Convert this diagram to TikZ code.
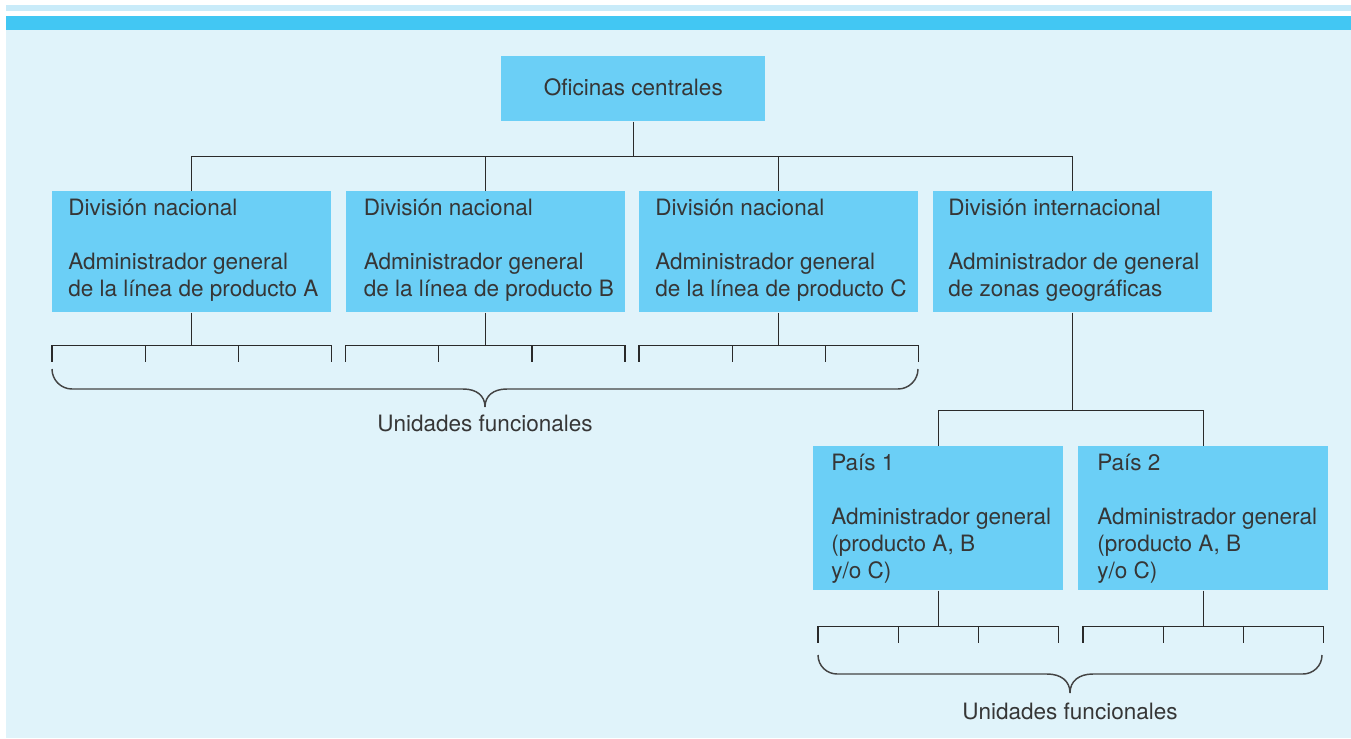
\documentclass[tikz,border=0pt]{standalone}
\usepackage{fontspec}
\setmainfont{TeX Gyre Heros}
\usetikzlibrary{calc}
\definecolor{bgblue}{HTML}{E0F3FA}
\definecolor{topbar}{HTML}{C9EBF9}
\definecolor{bandblue}{HTML}{42C7F3}
\definecolor{boxblue}{HTML}{6BCFF6}
\definecolor{textgray}{HTML}{363636}
\definecolor{linegray}{HTML}{2A2A2A}
\definecolor{bracegray}{HTML}{444444}
\begin{document}
\begin{tikzpicture}[x=0.75pt,y=-0.75pt,
  orgbox/.style={fill=boxblue, draw=none, inner sep=0pt, anchor=north west},
  rowbox/.style={orgbox, minimum width=209.25pt, minimum height=90.75pt},
  paisbox/.style={orgbox, minimum width=187.5pt, minimum height=108pt},
  boxtext/.style={anchor=west, align=left, inner sep=0pt, text=textgray,
    font=\fontsize{16.9}{20.25}\selectfont},
  link/.style={draw=linegray, line width=1pt},
  bracepath/.style={draw=bracegray, line width=1.1pt}]
\useasboundingbox (0,0) rectangle (1351,738);
% page header bands and background
\fill[topbar] (6,5) rectangle (1351,11);
\fill[bandblue] (6,16) rectangle (1351,30);
\fill[bgblue] (6,30) rectangle (1351,738);

% boxes
\node[orgbox, minimum width=198pt, minimum height=48.75pt] (hq) at (501,56) {};
\node[rowbox] (b1) at (52,191) {};
\node[rowbox] (b2) at (345.5,191) {};
\node[rowbox] (b3) at (639,191) {};
\node[rowbox] (b4) at (933,191) {};
\node[paisbox] (p1) at (813,446) {};
\node[paisbox] (p2) at (1078,446) {};

% box texts
\node[boxtext, anchor=center] (hqt) at ($(hq)+(0,-1)$) {Oficinas centrales};
\node[boxtext] (t1) at ($(b1.west)+(16,-2)$) {División nacional\\[20.25pt]Administrador general\\de la línea de producto A};
\node[boxtext] (t2) at ($(b2.west)+(18,-2)$) {División nacional\\[20.25pt]Administrador general\\de la línea de producto B};
\node[boxtext] (t3) at ($(b3.west)+(16,-2)$) {División nacional\\[20.25pt]Administrador general\\de la línea de producto C};
\node[boxtext] (t4) at ($(b4.west)+(15,-2)$) {División internacional\\[20.25pt]Administrador de general\\de zonas geográficas};
\node[boxtext] (tp1) at ($(p1.west)+(18,0)$) {País 1\\[20.25pt]Administrador general\\(producto A, B\\y/o C)};
\node[boxtext] (tp2) at ($(p2.west)+(19,0)$) {País 2\\[20.25pt]Administrador general\\(producto A, B\\y/o C)};

% headquarters to divisions
\coordinate (bus) at ($(hq.south)+(0,35)$);
\draw[link] (hq.south) -- (bus);
\draw[link] (b1.north) |- (bus) -| (b4.north);
\draw[link] (b2.north) -- (b2.north |- bus);
\draw[link] (b3.north) -- (b3.north |- bus);

% international division to countries
\coordinate (ibus) at ($(b4.south)+(0,98)$);
\draw[link] (b4.south) -- (ibus);
\draw[link] (p1.north) |- (ibus) -| (p2.north);

% functional units under each unit
\foreach \b/\d/\i in {b1/33/0,b2/33/0,b3/33/0,p1/36/5,p2/36/5} {
  \coordinate (L) at ($(\b.south west)+(\i,\d)$);
  \coordinate (R) at ($(\b.south east)+(-\i,\d)$);
  \draw[link] (\b.south) -- (\b.south |- L);
  \draw[link] ($(L)+(0,16)$) -- (L) -- (R) -- ($(R)+(0,16)$);
  \draw[link] ($(L)!1/3!(R)$) -- ++(0,16);
  \draw[link] ($(L)!2/3!(R)$) -- ++(0,16);
}

% braces
\draw[bracepath] (52,369) .. controls (52,380) and (61,389) .. (72,389)
  -- (463,389) .. controls (477,389) and (485,396) .. (485,407)
  .. controls (485,396) and (493,389) .. (507,389)
  -- (898,389) .. controls (909,389) and (918,380) .. (918,369);
\node[boxtext, anchor=center] (u1) at (485,423) {Unidades funcionales};

\draw[bracepath] (818,655) .. controls (818,666) and (827,674) .. (837,674)
  -- (1047,674) .. controls (1061,674) and (1070,681) .. (1070,693)
  .. controls (1070,681) and (1079,674) .. (1093,674)
  -- (1303,674) .. controls (1313,674) and (1322,666) .. (1322,655);
\node[boxtext, anchor=center] (u2) at (1070,711) {Unidades funcionales};
\end{tikzpicture}
\end{document}
